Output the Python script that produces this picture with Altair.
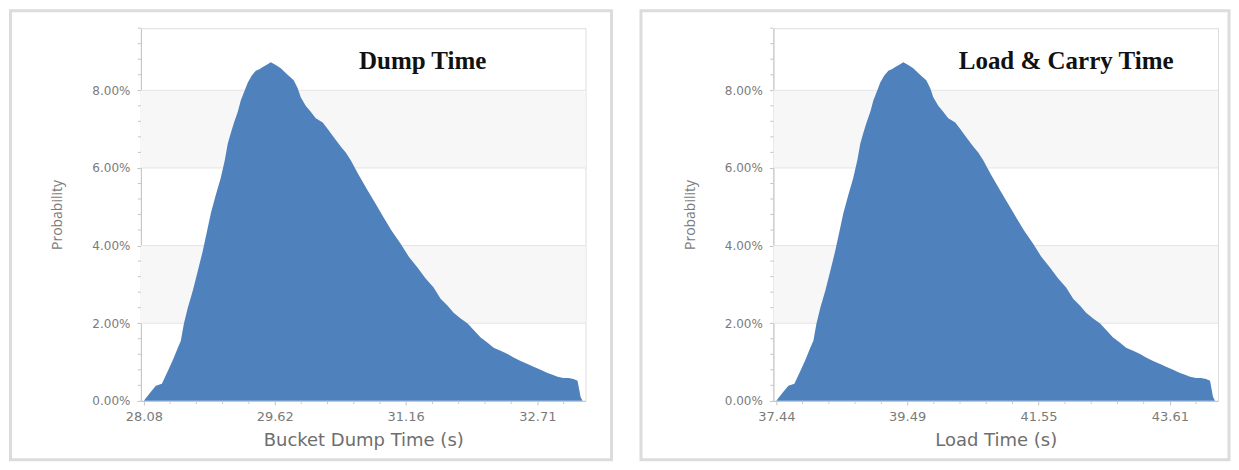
import altair as alt
import pandas as pd

# ---------------- data ----------------
prob = [0.0, 0.20, 0.39, 0.44, 0.77, 1.05, 1.37, 1.55, 1.98, 2.40, 2.84, 3.35, 3.87, 4.35,
        4.83, 5.30, 5.75, 6.20, 6.63, 6.90, 7.15, 7.45, 7.74, 8.00, 8.20, 8.38, 8.50, 8.55,
        8.60, 8.66, 8.72, 8.65, 8.57, 8.42, 8.26, 8.05, 7.82, 7.60, 7.45, 7.28, 7.17, 7.00,
        6.79, 6.55, 6.40, 6.20, 5.82, 5.42, 5.07, 4.72, 4.38, 4.05, 3.72, 3.43, 3.15, 2.92,
        2.63, 2.45, 2.27, 2.12, 1.99, 1.80, 1.63, 1.50, 1.37, 1.29, 1.21, 1.12, 1.03, 0.95,
        0.88, 0.80, 0.72, 0.67, 0.62, 0.59, 0.59, 0.56, 0.52, 0.10, 0.0]

dump_t = [28.080, 28.151, 28.221, 28.292, 28.362, 28.421, 28.480, 28.515, 28.550, 28.597,
          28.656, 28.715, 28.774, 28.821, 28.868, 28.926, 28.985, 29.032, 29.067, 29.103,
          29.138, 29.185, 29.220, 29.267, 29.303, 29.350, 29.397, 29.444, 29.479, 29.526,
          29.573, 29.632, 29.691, 29.761, 29.843, 29.890, 29.926, 29.984, 30.043, 30.102,
          30.184, 30.243, 30.314, 30.396, 30.455, 30.514, 30.608, 30.713, 30.808, 30.901,
          30.995, 31.101, 31.195, 31.301, 31.395, 31.489, 31.571, 31.654, 31.724, 31.807,
          31.889, 31.971, 32.042, 32.124, 32.195, 32.277, 32.359, 32.430, 32.512, 32.594,
          32.665, 32.747, 32.829, 32.888, 32.947, 33.017, 33.076, 33.135, 33.182, 33.218,
          33.241]

load_t = [37.440, 37.534, 37.628, 37.722, 37.816, 37.894, 37.972, 38.020, 38.067, 38.129,
          38.208, 38.286, 38.364, 38.427, 38.490, 38.568, 38.646, 38.709, 38.756, 38.803,
          38.850, 38.913, 38.960, 39.023, 39.069, 39.132, 39.195, 39.257, 39.304, 39.367,
          39.430, 39.508, 39.586, 39.680, 39.790, 39.853, 39.900, 39.978, 40.056, 40.135,
          40.244, 40.323, 40.417, 40.526, 40.605, 40.683, 40.808, 40.949, 41.075, 41.200,
          41.325, 41.466, 41.591, 41.732, 41.858, 41.983, 42.093, 42.202, 42.296, 42.406,
          42.516, 42.625, 42.719, 42.829, 42.923, 43.033, 43.142, 43.236, 43.346, 43.456,
          43.550, 43.659, 43.769, 43.847, 43.926, 44.020, 44.098, 44.176, 44.239, 44.286,
          44.317]

dump_ticks = [28.08, 29.62, 31.16, 32.71]
load_ticks = [37.44, 39.49, 41.55, 43.61]
dump_domain = [28.045, 33.276]
load_domain = [37.393, 44.364]

y_major = [0.0, 0.02, 0.04, 0.06, 0.08]
band_lo = [0.02, 0.06]
band_hi = [0.04, 0.08]
y_domain = [0.0, 0.096]

titles = ["Dump Time", "Load & Carry Time"]
x_titles = ["Bucket Dump Time (s)", "Load Time (s)"]

# ---------------- styling ----------------
W, H = 445, 373
BLUE = "#4f81bd"
AXIS_GRAY = "#c4c4c4"
LABEL_GRAY = "#7a7a7a"
FONT = "DejaVu Sans"


def minor_positions(ticks, domain):
    step = (ticks[-1] - ticks[0]) / (5 * (len(ticks) - 1))
    vals = []
    k = 1
    while ticks[0] + k * step < domain[1]:
        if k % 5 != 0:
            vals.append(round(ticks[0] + k * step, 4))
        k += 1
    return vals


def panel(xs, ys, ticks, domain, xtitle, title, frame_left, frame_right, title_x):
    df = pd.DataFrame({"t": xs, "p": [v / 100 for v in ys]})
    xscale = alt.Scale(domain=domain, zero=False, nice=False)
    yscale = alt.Scale(domain=y_domain, nice=False)

    xaxis = alt.Axis(
        orient="bottom", values=ticks, format=".2f", title=xtitle,
        labelFont=FONT, labelFontSize=13, labelColor=LABEL_GRAY, labelPadding=6,
        tickSize=4, tickColor=AXIS_GRAY, domainColor=AXIS_GRAY, grid=False,
        labelFlush=False,
        titleFont=FONT, titleFontSize=18, titleFontWeight="normal",
        titleColor="#6e6e6e", titlePadding=8)
    yaxis = alt.Axis(
        orient="left", values=y_major, format=".2%", title="Probability",
        labelFont=FONT, labelFontSize=12, labelColor=LABEL_GRAY, labelPadding=7,
        tickSize=4, tickColor=AXIS_GRAY, domainColor=AXIS_GRAY, grid=False,
        titleFont="Open Sans", titleFontSize=14, titleFontWeight="normal",
        titleColor=LABEL_GRAY, titlePadding=27)

    bands = alt.Chart(pd.DataFrame({"lo": band_lo, "hi": band_hi})).mark_rect(
        color="#f7f7f7"
    ).encode(
        x=alt.X("t0:Q", scale=xscale, axis=xaxis),
        x2="t1:Q",
        y=alt.Y("lo:Q", scale=yscale, axis=yaxis),
        y2="hi:Q",
    ).transform_calculate(t0=str(domain[0]), t1=str(domain[1]))

    grid = alt.Chart(pd.DataFrame({"g": y_major[1:]})).mark_rule(
        color="#e4e4e4", strokeWidth=1
    ).encode(y=alt.Y("g:Q", scale=yscale, axis=yaxis))

    area = alt.Chart(df).mark_area(color=BLUE, opacity=1, interpolate="linear").encode(
        x=alt.X("t:Q", scale=xscale, axis=xaxis),
        y=alt.Y("p:Q", scale=yscale, axis=yaxis),
    )

    xminor = alt.Chart(pd.DataFrame({"m": minor_positions(ticks, domain)})).mark_rule(
        color=AXIS_GRAY
    ).encode(x=alt.X("m:Q", scale=xscale, axis=xaxis),
             y=alt.value(H), y2=alt.value(H + 3))

    ym = [round(0.004 * k, 4) for k in range(1, 25) if k % 5 != 0]
    yminor = alt.Chart(pd.DataFrame({"m": ym})).mark_rule(color=AXIS_GRAY).encode(
        y=alt.Y("m:Q", scale=yscale, axis=yaxis), x=alt.value(-3), x2=alt.value(0)
    )

    ttl = alt.Chart(pd.DataFrame({"s": [title]})).mark_text(
        font="Liberation Serif", fontSize=25, fontWeight="bold", color="#111111",
        align="center", baseline="middle"
    ).encode(text="s:N", x=alt.value(title_x), y=alt.value(33))

    frame = alt.Chart(pd.DataFrame({"s": [title]})).mark_rect(
        filled=False, stroke="#dcdcdc", strokeWidth=3
    ).encode(
        x=alt.value(frame_left), x2=alt.value(frame_right),
        y=alt.value(-17.5), y2=alt.value(432),
    )

    return alt.layer(bands, grid, area, xminor, yminor, ttl, frame).properties(
        width=W, height=H
    )


left = panel(dump_t, prob, dump_ticks, dump_domain, x_titles[0], titles[0],
             -130.5, 471, 282)
right = panel(load_t, prob, load_ticks, load_domain, x_titles[1], titles[1],
              -132.5, 456, 293)

chart = alt.hconcat(left, right, spacing=25).properties(padding=0).configure_view(
    stroke="#dadada", strokeWidth=1
).configure(background="white")

chart.save("out.html", embed_options={"renderer": "svg", "actions": False})
